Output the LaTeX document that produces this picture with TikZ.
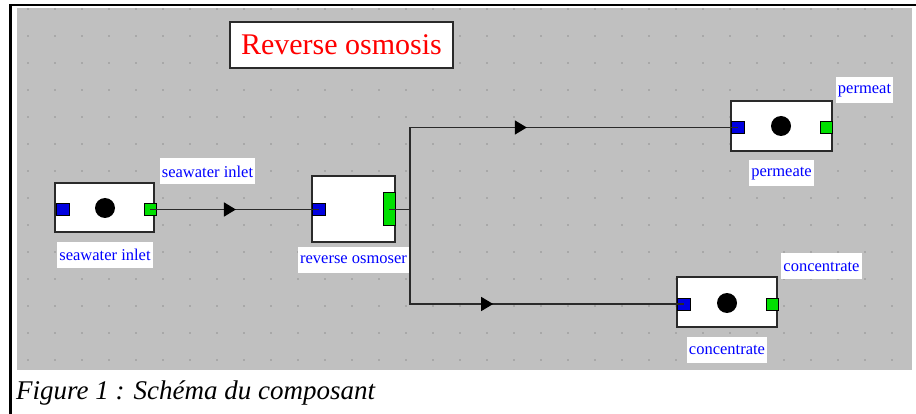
\documentclass[tikz,border=0pt]{standalone}
\usepackage{fontspec}
\setmainfont{Liberation Serif}
\usetikzlibrary{arrows.meta,positioning,decorations.markings}
\definecolor{panel}{HTML}{C0C0C0}
\definecolor{griddot}{HTML}{A8A8A8}
\definecolor{edge}{HTML}{2A2A2A}
\definecolor{inblue}{HTML}{0000E0}
\definecolor{outgreen}{HTML}{00E000}
\definecolor{tagblue}{HTML}{0000FF}
\tikzset{unit/.style={draw=edge,fill=white,line width=1.5pt,inner sep=0pt}, inport/.style={draw=black,fill=inblue,line width=1pt,minimum width=13pt,minimum height=12pt,inner sep=0pt}, outport/.style={draw=black,fill=outgreen,line width=1pt,minimum width=12pt,minimum height=12pt,inner sep=0pt}, blob/.style={circle,fill=black,minimum size=20pt,inner sep=0pt}, tag/.style={fill=white,text=tagblue,font=\fontsize{16.5}{16.5}\selectfont,inner xsep=2pt,minimum height=26pt}, flow/.style={draw=edge,line width=1.5pt,postaction={decorate},decoration={markings,mark=at position 0.51 with {\arrow[black]{Triangle[length=12pt,width=14pt]}}}}}

\begin{document}
\begin{tikzpicture}[x=1pt,y=-1pt]
\useasboundingbox (0,0) rectangle (916,414);
\fill[panel] (17,8) rectangle (912,370);
\foreach \i in {0,...,32} \foreach \j in {0,...,13} \fill[griddot] (27.3+27*\i,8+27*\j) rectangle +(2,2);
\draw[line width=2.5pt] (10.5,414)--(10.5,5)--(916,5);
\node[unit,minimum width=223pt,minimum height=46pt,text=red,font=\fontsize{30}{30}\selectfont] (title) at (341.5,45) {Reverse osmosis};
\node[unit,minimum width=99pt,minimum height=49pt] (sw) at (104.5,207.5) {};
\node[inport] (swi) at (62.5,209.5) {};
\node[blob] (swdot) at (105,208) {};
\node[outport] (swo) at (150,209.5) {};
\node[tag] (swlab) at (105,255) {seawater inlet};
\node[tag] (swport) at (207.5,171.5) {seawater inlet};
\node[unit,minimum width=83pt,minimum height=66pt] (ro) at (353.5,209) {};
\node[inport] (roi) at (318.5,209.5) {};
\node[outport,minimum height=33pt] (roo) at (389,209.5) {};
\node[tag] (rolab) at (353.5,260) {reverse osmoser};
\node[unit,minimum width=101pt,minimum height=50pt] (pm) at (781.5,126) {};
\node[inport] (pmi) at (738,127.5) {};
\node[blob] (pmdot) at (781,126) {};
\node[outport] (pmo) at (826.5,127.5) {};
\node[tag] (pmlab) at (781.5,173.5) {permeate};
\node[tag] (pmport) at (864.5,90.5) {permeat};
\node[unit,minimum width=100pt,minimum height=50pt] (cc) at (727,302) {};
\node[inport] (cci) at (684,304) {};
\node[blob] (ccdot) at (727,303) {};
\node[outport] (cco) at (772.5,304) {};
\node[tag] (cclab) at (727,350) {concentrate};
\node[tag] (ccport) at (821.5,266.5) {concentrate};
\coordinate (split) at (410,209.5);
\draw[flow] (swo.center)--(roi.center);
\draw[flow] (roo.center)--(split)|-(pmi.center);
\draw[flow] (roo.center)--(split)|-(cci.center);
\node[anchor=base west,inner sep=0pt,font=\itshape\fontsize{27}{27}\selectfont] (caption) at (16,399) {Figure 1 : Schéma du composant};
\end{tikzpicture}
\end{document}
